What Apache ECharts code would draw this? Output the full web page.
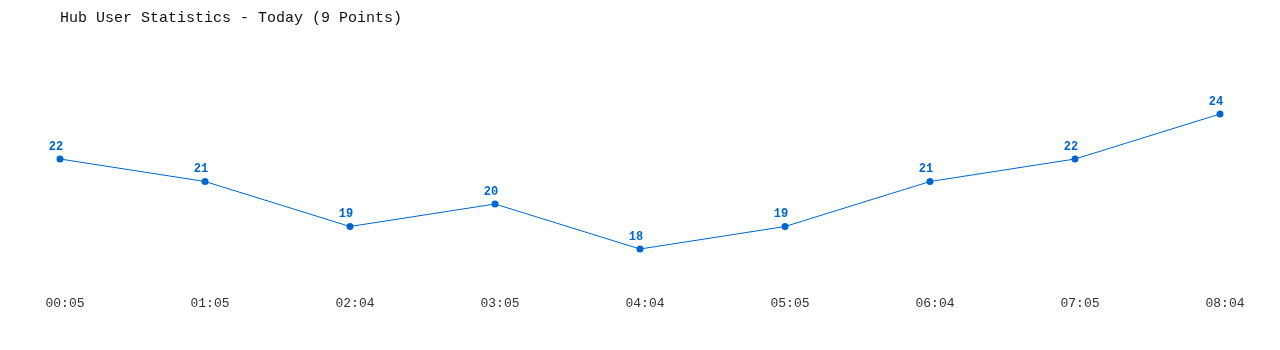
<!DOCTYPE html>
<html>
<head>
<meta charset="utf-8">
<script src="https://cdn.jsdelivr.net/npm/echarts@6/dist/echarts.min.js"></script>
<style>html,body{margin:0;padding:0;background:#fff}#c{width:1280px;height:350px}</style>
</head>
<body>
<div id="c"></div>
<script>
const categories = ["00:05","01:05","02:04","03:05","04:04","05:05","06:04","07:05","08:04"];
const users = [22, 21, 19, 20, 18, 19, 21, 22, 24];
const titleText = "Hub User Statistics - Today (9 Points)";

const chart = echarts.init(document.getElementById('c'), null, {renderer: 'canvas'});
chart.setOption({
  animation: false,
  backgroundColor: '#ffffff',
  title: {
    text: titleText,
    left: 55, top: 6,
    textStyle: {fontFamily: 'Liberation Mono', fontSize: 15, fontWeight: 'normal', color: '#111'}
  },
  grid: {left: 60, right: 60, top: 69, height: 225},
  xAxis: {
    type: 'category', data: categories, boundaryGap: false,
    axisLine: {show: false}, axisTick: {show: false}, splitLine: {show: false},
    axisLabel: {margin: 3, fontFamily: 'Liberation Mono', fontSize: 13, color: '#333', padding: [0,0,0,10]}
  },
  yAxis: {
    type: 'value', min: 16, max: 26, show: false
  },
  series: [{
    type: 'line', data: users,
    symbol: 'circle', symbolSize: 7,
    lineStyle: {color: '#0066cc', width: 1},
    itemStyle: {color: '#0066cc'},
    label: {show: true, position: 'top', distance: 3, offset: [-4, 0], color: '#0066cc', fontFamily: 'Liberation Mono', fontWeight: 'bold', fontSize: 12}
  }]
});
</script>
</body>
</html>
